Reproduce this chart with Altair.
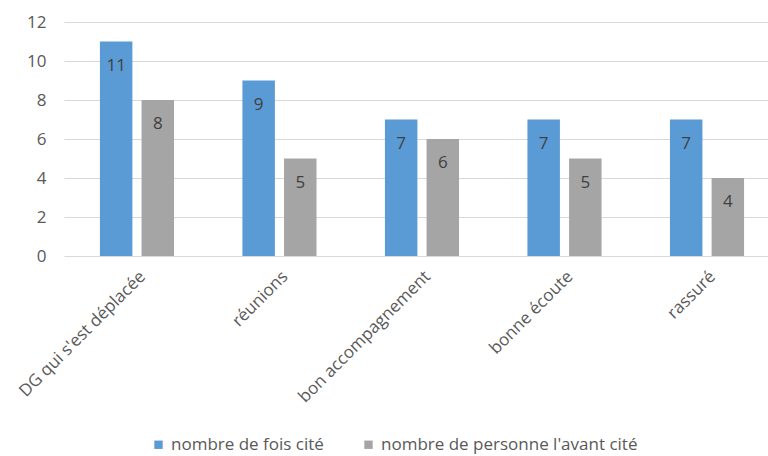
import altair as alt
import pandas as pd

categories = ["DG qui s'est déplacée", "réunions", "bon accompagnement", "bonne écoute", "rassuré"]
series = ["nombre de fois cité", "nombre de personne l'avant cité"]
fois_cite = [11, 9, 7, 7, 7]
personnes = [8, 5, 6, 5, 4]
colors = ["#5B9BD5", "#A5A5A5"]

rows = []
for c, a, b in zip(categories, fois_cite, personnes):
    rows.append({"cat": c, "serie": series[0], "val": a})
    rows.append({"cat": c, "serie": series[1], "val": b})
df = pd.DataFrame(rows)

FONT = "Open Sans"
FS = 17

x = alt.X("cat:N", sort=categories, title=None,
          scale=alt.Scale(paddingInner=0.48, paddingOuter=0.21, align=0.6),
          axis=alt.Axis(labelAngle=-45, labelFontSize=FS, labelColor="#595959",
                        labelFont=FONT, ticks=False, domain=False, labelPadding=12,
                        labelLimit=300))
xo = alt.XOffset("serie:N", sort=series,
                 scale=alt.Scale(paddingInner=0.22, paddingOuter=0))
y = alt.Y("val:Q", title=None,
          scale=alt.Scale(domain=[0, 12]),
          axis=alt.Axis(values=[0, 2, 4, 6, 8, 10, 12], labelFontSize=FS,
                        labelColor="#595959", labelFont=FONT, ticks=False,
                        domain=False, gridColor="#D9D9D9", gridWidth=1,
                        labelPadding=18))

bars = alt.Chart(df).mark_bar().encode(
    x=x, xOffset=xo, y=y,
    color=alt.Color("serie:N", sort=series,
                    scale=alt.Scale(domain=series, range=colors),
                    legend=alt.Legend(title=None, orient="none", direction="horizontal",
                                      legendX=86, legendY=414,
                                      symbolType="square", symbolSize=70,
                                      symbolStrokeWidth=0, labelFontSize=FS,
                                      labelColor="#595959", labelFont=FONT,
                                      labelLimit=400,
                                      columnPadding=36, symbolOpacity=1)),
)

labels = alt.Chart(df).mark_text(baseline="top", dy=16, fontSize=FS,
                                 color="#404040", font=FONT).encode(
    x=x, xOffset=xo, y=y, text="val:Q")

chart = (bars + labels).properties(
    width=704, height=234,
    padding={"left": 64, "top": 22, "right": 0, "bottom": 200},
    autosize=alt.AutoSizeParams(type="none"),
    background="white",
).configure_view(stroke=None)

chart.save("out.html", embed_options={"renderer": "svg", "actions": False})
